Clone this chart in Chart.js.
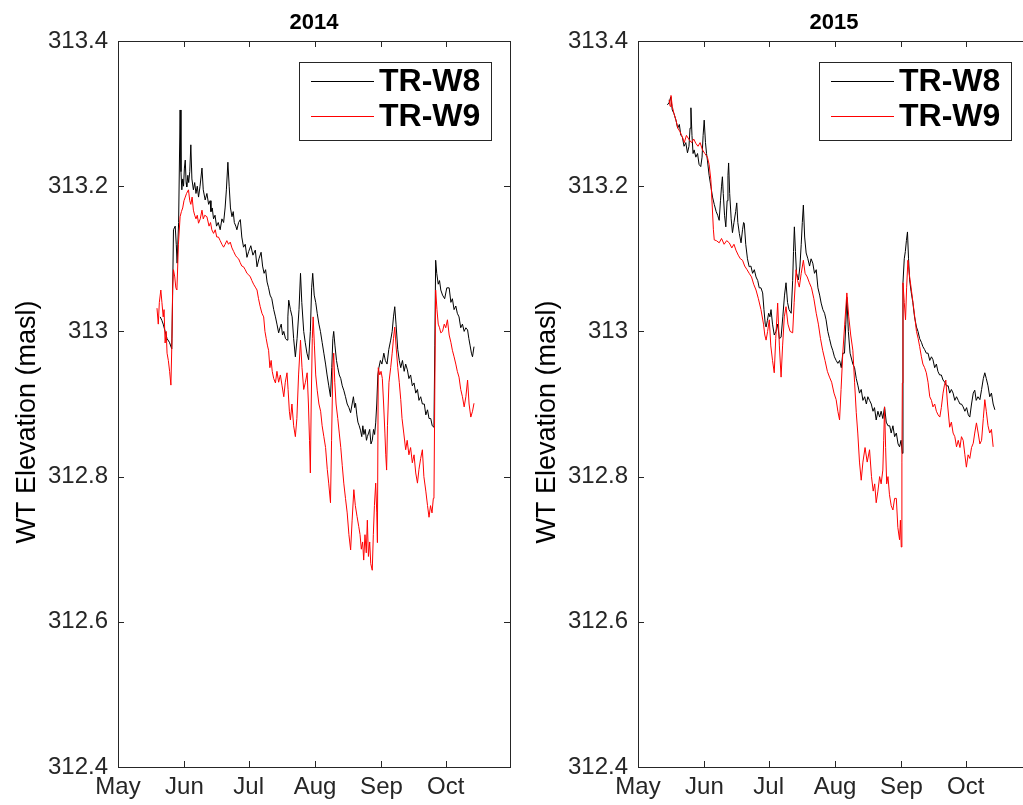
<!DOCTYPE html>
<html>
<head>
<meta charset="utf-8">
<script src="https://cdn.jsdelivr.net/npm/chart.js@4.4.1/dist/chart.umd.min.js"></script>
<style>
  html, body { margin: 0; padding: 0; background: #fff; overflow: hidden; }
  body { width: 1023px; height: 805px; position: relative; }
  .panel { position: absolute; top: 0; width: 520px; height: 805px; }
  #p2014 { left: 0; }
  #p2015 { left: 520px; }
</style>
</head>
<body>
<div class="panel" id="p2014"><canvas id="chart2014"></canvas></div>
<div class="panel" id="p2015"><canvas id="chart2015"></canvas></div>
<script>
// days counted from May 1
const monthTicks = [0, 31, 61, 92, 123, 153];
const monthLabels = ['May', 'Jun', 'Jul', 'Aug', 'Sep', 'Oct'];
const yTicks = [312.4, 312.6, 312.8, 313.0, 313.2, 313.4];
const seriesNames = ['TR-W8', 'TR-W9'];
const yAxisTitle = 'WT Elevation (masl)';

// 2014 TR-W8
const w8Days2014 = [19.7, 20.5, 21.1, 22.0, 22.9, 24.0, 25.1, 25.5, 25.9, 26.7, 27.2, 27.6, 28.3, 29.0, 29.4, 29.8, 30.2, 30.6, 31.0, 31.4, 31.8, 32.1, 32.6, 33.0, 33.5, 34.0, 34.5, 35.2, 35.8, 36.4, 37.0, 37.6, 38.3, 39.2, 39.8, 40.7, 41.5, 42.3, 43.0, 43.4, 44.0, 44.6, 45.3, 46.0, 46.8, 47.7, 48.5, 49.3, 50.0, 50.6, 51.3, 51.9, 52.5, 53.2, 53.8, 54.3, 55.0, 55.5, 56.3, 57.1, 57.8, 58.6, 59.4, 60.2, 61.0, 62.0, 63.0, 64.1, 64.9, 65.8, 66.8, 67.5, 68.2, 68.9, 69.6, 70.3, 71.0, 71.8, 72.7, 73.5, 74.2, 75.0, 75.6, 76.2, 76.8, 77.4, 78.2, 78.9, 79.3, 79.7, 80.5, 81.3, 82.0, 82.8, 83.6, 84.5, 85.2, 85.8, 86.7, 87.4, 88.2, 89.0, 89.8, 90.4, 90.9, 91.6, 92.3, 93.0, 93.8, 94.5, 95.3, 96.1, 96.9, 97.6, 98.4, 99.2, 99.8, 100.3, 100.7, 101.3, 102.0, 102.6, 103.3, 104.0, 104.7, 105.4, 106.2, 107.0, 107.8, 108.6, 109.3, 109.9, 110.5, 110.9, 111.5, 112.0, 112.6, 113.2, 113.8, 114.3, 114.8, 115.4, 116.0, 116.4, 117.0, 117.5, 118.1, 118.7, 119.3, 119.8, 120.3, 120.8, 121.3, 121.8, 122.5, 123.2, 124.1, 124.8, 125.6, 126.4, 127.3, 128.0, 128.6, 129.2, 129.8, 130.6, 131.3, 132.0, 132.8, 133.6, 134.3, 135.1, 135.8, 136.6, 137.4, 138.2, 139.0, 139.8, 140.5, 141.3, 142.1, 143.0, 143.7, 144.5, 145.2, 146.0, 146.7, 147.5, 147.9, 148.3, 148.8, 149.5, 150.1, 150.7, 151.5, 152.5, 153.5, 154.6, 155.4, 156.1, 156.9, 157.7, 158.4, 159.2, 160.0, 160.8, 161.6, 162.4, 163.2, 163.8, 164.4, 165.0, 165.5, 166.2];
const w8Vals2014 = [313.02, 313.015, 313.01, 313.0, 312.99, 312.985, 312.976, 313.05, 313.14, 313.145, 313.12, 313.094, 313.15, 313.305, 313.22, 313.195, 313.21, 313.2, 313.225, 313.236, 313.205, 313.199, 313.215, 313.205, 313.22, 313.257, 313.21, 313.195, 313.205, 313.19, 313.2, 313.185, 313.2, 313.225, 313.195, 313.181, 313.19, 313.175, 313.18, 313.165, 313.17, 313.155, 313.16, 313.145, 313.15, 313.14, 313.155, 313.15, 313.17, 313.195, 313.233, 313.2, 313.17, 313.158, 313.165, 313.15, 313.145, 313.14, 313.15, 313.154, 313.13, 313.116, 313.12, 313.102, 313.11, 313.118, 313.105, 313.112, 313.089, 313.1, 313.109, 313.09, 313.08, 313.085, 313.068, 313.06, 313.05, 313.045, 313.03, 313.02, 313.01, 312.998, 313.005, 313.01, 312.995, 313.0, 312.99, 312.988, 313.02, 313.043, 313.03, 313.02, 312.99, 312.965, 312.99, 313.03, 313.08, 313.04, 313.0, 312.985, 312.97, 312.961, 313.0, 313.06, 313.08, 313.05, 313.04, 313.025, 313.01, 313.0, 312.985, 312.97, 312.955, 312.94, 312.925, 312.91, 312.95, 312.99, 313.0, 312.98, 312.96, 312.95, 312.94, 312.935, 312.925, 312.919, 312.91, 312.9, 312.895, 312.888, 312.9, 312.91, 312.895, 312.901, 312.885, 312.875, 312.87, 312.864, 312.855, 312.87, 312.858, 312.865, 312.85, 312.855, 312.86, 312.865, 312.845, 312.85, 312.865, 312.858, 312.874, 312.9, 312.94, 312.95, 312.96, 312.955, 312.97, 312.96, 312.955, 312.975, 312.988, 313.0, 313.02, 313.034, 313.01, 312.975, 312.96, 312.95, 312.96, 312.945, 312.955, 312.947, 312.935, 312.94, 312.925, 312.929, 312.915, 312.92, 312.905, 312.91, 312.9, 312.9, 312.885, 312.892, 312.88, 312.88, 312.87, 312.868, 312.98, 313.098, 313.08, 313.065, 313.07, 313.057, 313.05, 313.045, 313.06, 313.06, 313.04, 313.045, 313.03, 313.035, 313.025, 313.02, 313.005, 313.01, 313.0, 313.005, 313.002, 312.99, 312.98, 312.97, 312.965, 312.979];
// 2014 TR-W9
const w9Days2014 = [18.2, 18.8, 19.3, 20.0, 20.5, 21.1, 21.5, 22.0, 22.5, 22.9, 23.5, 24.1, 24.7, 25.2, 25.5, 25.9, 26.5, 27.0, 27.5, 28.2, 29.0, 29.6, 30.2, 30.8, 31.4, 32.0, 32.9, 33.5, 34.0, 34.6, 35.2, 35.8, 36.4, 37.0, 37.6, 38.4, 39.2, 39.8, 40.5, 41.5, 42.5, 43.2, 43.8, 44.6, 45.4, 46.1, 46.9, 47.7, 48.5, 49.3, 50.0, 50.8, 51.6, 52.4, 53.2, 54.0, 54.8, 55.5, 56.3, 57.0, 57.8, 58.6, 59.4, 60.2, 61.0, 61.8, 62.5, 63.3, 64.1, 64.9, 65.6, 66.4, 67.2, 68.0, 68.6, 69.2, 69.8, 70.3, 70.9, 71.5, 72.0, 72.7, 73.5, 74.2, 75.0, 75.8, 76.6, 77.4, 78.1, 78.9, 79.4, 80.0, 80.5, 81.2, 82.0, 82.8, 83.5, 84.3, 85.2, 85.9, 86.7, 87.5, 88.3, 88.9, 89.4, 89.8, 90.2, 90.7, 91.1, 91.7, 92.3, 93.0, 93.8, 94.6, 95.3, 96.1, 96.9, 97.7, 98.4, 99.2, 99.7, 100.3, 100.7, 101.2, 101.8, 102.6, 103.3, 104.0, 104.7, 105.4, 106.2, 107.0, 107.8, 108.6, 109.3, 110.1, 110.8, 111.6, 112.4, 113.0, 113.6, 114.2, 114.7, 115.3, 115.9, 116.4, 116.9, 117.5, 118.0, 118.7, 119.2, 119.7, 120.3, 120.8, 121.1, 121.5, 122.2, 122.8, 123.4, 124.0, 124.6, 125.0, 125.4, 125.8, 126.5, 127.3, 128.0, 128.6, 129.2, 129.8, 130.6, 131.3, 132.0, 132.6, 133.4, 134.3, 135.0, 135.8, 136.6, 137.4, 138.2, 139.0, 139.8, 140.5, 141.3, 142.1, 142.8, 143.7, 144.5, 145.2, 145.9, 146.6, 147.2, 147.5, 147.9, 148.3, 148.9, 149.5, 150.1, 150.7, 151.5, 152.3, 153.0, 153.8, 154.6, 155.4, 156.1, 156.9, 157.7, 158.4, 159.2, 160.0, 160.8, 161.6, 162.4, 163.2, 163.9, 164.7, 165.5, 166.2];
const w9Vals2014 = [313.032, 313.01, 313.04, 313.057, 313.04, 313.02, 313.03, 312.984, 313.0, 312.97, 312.96, 312.945, 312.926, 312.99, 313.06, 313.085, 313.075, 313.06, 313.057, 313.12, 313.158, 313.165, 313.17, 313.18, 313.185, 313.19, 313.195, 313.18, 313.175, 313.185, 313.167, 313.16, 313.155, 313.16, 313.149, 313.155, 313.167, 313.155, 313.16, 313.158, 313.145, 313.15, 313.14, 313.135, 313.14, 313.13, 313.13, 313.125, 313.12, 313.116, 313.12, 313.125, 313.12, 313.123, 313.115, 313.11, 313.105, 313.102, 313.1, 313.095, 313.09, 313.089, 313.085, 313.08, 313.078, 313.075, 313.07, 313.065, 313.061, 313.057, 313.045, 313.034, 313.025, 313.02, 313.0, 312.99, 312.98, 312.974, 312.95, 312.96, 312.945, 312.935, 312.929, 312.945, 312.93, 312.94, 312.925, 312.91, 312.93, 312.943, 312.92, 312.89, 312.878, 312.9, 312.87, 312.855, 312.88, 312.94, 312.988, 312.95, 312.92, 312.93, 312.943, 312.9, 312.85, 312.805, 312.9, 312.99, 313.02, 312.98, 312.94, 312.919, 312.9, 312.89, 312.87, 312.855, 312.84, 312.81, 312.79, 312.764, 312.85, 312.95, 312.97, 312.93, 312.9, 312.88, 312.86, 312.84, 312.815, 312.791, 312.77, 312.75, 312.72, 312.699, 312.74, 312.782, 312.76, 312.745, 312.731, 312.72, 312.7, 312.71, 312.685, 312.72, 312.695, 312.74, 312.69, 312.71, 312.68, 312.671, 312.72, 312.76, 312.791, 312.75, 312.709, 312.95, 312.94, 312.945, 312.935, 312.9, 312.86, 312.83, 312.809, 312.87, 312.93, 312.95, 312.97, 312.99, 313.006, 312.98, 312.95, 312.93, 312.906, 312.88, 312.86, 312.837, 312.85, 312.83, 312.84, 312.819, 312.83, 312.805, 312.791, 312.81, 312.825, 312.837, 312.8, 312.78, 312.76, 312.744, 312.76, 312.75, 312.77, 312.772, 312.92, 313.057, 313.03, 313.01, 313.005, 312.998, 313.0, 313.01, 313.005, 313.016, 312.995, 312.985, 312.974, 312.965, 312.955, 312.945, 312.937, 312.92, 312.91, 312.896, 312.91, 312.933, 312.9, 312.882, 312.89, 312.901];

// 2015 TR-W8
const w8Days2015 = [13.7, 14.5, 15.3, 16.0, 16.8, 17.8, 18.5, 19.3, 20.0, 20.7, 21.5, 22.3, 23.1, 23.8, 24.3, 24.7, 25.2, 25.7, 26.2, 27.0, 27.8, 28.5, 29.3, 29.9, 30.4, 30.9, 31.5, 32.0, 32.4, 33.2, 34.0, 34.8, 35.6, 36.5, 37.2, 37.9, 38.5, 39.0, 39.4, 39.8, 40.4, 41.0, 41.6, 42.0, 42.3, 42.8, 43.5, 44.1, 44.8, 45.6, 46.1, 46.6, 47.3, 48.1, 48.8, 49.3, 49.6, 50.3, 51.1, 51.9, 52.7, 53.5, 54.3, 55.1, 55.9, 56.6, 57.4, 58.2, 58.8, 59.4, 59.8, 60.4, 61.0, 61.6, 62.1, 62.8, 63.6, 64.4, 65.2, 66.0, 66.8, 67.6, 68.4, 69.1, 69.8, 70.5, 71.5, 72.2, 72.6, 73.0, 73.5, 74.0, 74.9, 75.6, 76.2, 76.7, 77.2, 77.8, 78.5, 79.3, 80.1, 80.8, 81.6, 82.4, 83.2, 84.0, 84.8, 85.5, 86.3, 87.1, 87.8, 88.6, 89.4, 90.2, 90.9, 91.7, 92.5, 93.3, 94.1, 94.9, 95.6, 96.4, 97.0, 97.5, 98.2, 99.0, 100.3, 101.1, 101.9, 102.7, 103.4, 104.2, 105.0, 105.8, 106.6, 107.3, 108.1, 108.9, 109.7, 110.4, 111.2, 112.0, 112.8, 113.5, 114.3, 115.1, 115.9, 116.7, 117.5, 118.2, 119.0, 119.8, 120.6, 121.4, 122.1, 122.8, 123.4, 123.7, 124.3, 124.8, 125.3, 125.8, 126.3, 126.8, 127.5, 128.3, 129.1, 130.0, 130.7, 131.5, 132.3, 133.0, 133.8, 134.6, 135.4, 136.2, 137.0, 137.7, 138.5, 139.3, 140.0, 140.8, 141.6, 142.4, 143.2, 144.0, 144.8, 145.5, 146.3, 147.1, 147.9, 148.7, 149.5, 150.3, 151.0, 151.8, 152.6, 153.4, 154.2, 154.9, 155.7, 156.5, 157.2, 157.9, 158.7, 159.6, 160.4, 161.2, 161.9, 162.6, 163.4, 164.2, 165.0, 165.8, 166.6];
const w8Vals2015 = [313.312, 313.315, 313.323, 313.305, 313.3, 313.29, 313.28, 313.285, 313.27, 313.268, 313.255, 313.26, 313.246, 313.255, 313.28, 313.308, 313.27, 313.245, 313.25, 313.24, 313.245, 313.23, 313.227, 313.24, 313.27, 313.291, 313.26, 313.245, 313.236, 313.215, 313.2, 313.185, 313.175, 313.165, 313.16, 313.153, 313.18, 313.2, 313.213, 313.19, 313.16, 313.144, 313.18, 313.215, 313.232, 313.19, 313.155, 313.136, 313.15, 313.165, 313.177, 313.15, 313.135, 313.122, 313.14, 313.15, 313.149, 313.12, 313.1, 313.089, 313.09, 313.08, 313.085, 313.075, 313.07, 313.06, 313.06, 313.053, 313.03, 313.01, 313.006, 313.015, 313.025, 313.02, 313.03, 313.01, 312.995, 313.0, 313.01, 312.99, 312.992, 313.02, 313.05, 313.067, 313.04, 313.03, 313.025, 313.07, 313.11, 313.144, 313.11, 313.08, 313.071, 313.09, 313.12, 313.15, 313.174, 313.13, 313.108, 313.1, 313.09, 313.1, 313.094, 313.08, 313.085, 313.06, 313.05, 313.039, 313.03, 313.025, 313.016, 313.0, 312.99, 312.98, 312.974, 312.965, 312.96, 312.956, 312.96, 312.95, 312.97, 312.97, 313.01, 313.047, 313.0, 312.97, 312.955, 312.95, 312.935, 312.925, 312.915, 312.92, 312.905, 312.91, 312.9, 312.91, 312.905, 312.9, 312.89, 312.895, 312.878, 312.89, 312.882, 312.89, 312.88, 312.896, 312.875, 312.87, 312.87, 312.86, 312.87, 312.855, 312.86, 312.845, 312.841, 312.85, 312.832, 313.067, 313.1, 313.11, 313.125, 313.137, 313.1, 313.071, 313.055, 313.04, 313.02, 313.006, 313.0, 312.99, 312.985, 312.979, 312.975, 312.97, 312.97, 312.96, 312.965, 312.961, 312.95, 312.955, 312.945, 312.94, 312.94, 312.933, 312.93, 312.925, 312.925, 312.915, 312.92, 312.915, 312.905, 312.91, 312.905, 312.9, 312.9, 312.896, 312.89, 312.895, 312.885, 312.882, 312.9, 312.915, 312.919, 312.905, 312.91, 312.906, 312.92, 312.935, 312.943, 312.935, 312.925, 312.91, 312.915, 312.9, 312.892];
// 2015 TR-W9
const w9Days2015 = [14.5, 15.0, 15.4, 16.0, 16.8, 17.8, 18.6, 19.6, 20.7, 21.6, 22.6, 23.9, 25.0, 26.0, 27.0, 28.0, 29.0, 30.1, 31.2, 32.4, 33.2, 34.0, 34.7, 35.2, 35.6, 36.6, 37.9, 39.0, 40.2, 41.4, 42.6, 43.8, 44.8, 45.7, 46.8, 47.8, 48.8, 49.8, 50.9, 51.9, 53.0, 54.0, 55.1, 56.2, 57.4, 58.6, 59.2, 59.8, 60.5, 61.3, 62.0, 62.8, 63.6, 64.3, 65.2, 66.0, 66.8, 67.5, 68.3, 69.1, 70.0, 71.0, 72.2, 72.9, 73.8, 74.5, 75.3, 76.2, 77.2, 78.0, 79.0, 80.0, 81.0, 82.1, 83.2, 84.2, 85.2, 86.2, 87.3, 88.4, 89.4, 90.4, 91.5, 92.5, 93.3, 94.1, 94.8, 95.6, 96.5, 97.5, 98.4, 99.3, 100.3, 101.1, 101.9, 102.6, 103.4, 104.2, 105.0, 106.0, 107.0, 108.1, 109.0, 109.8, 110.5, 111.2, 112.0, 112.8, 113.5, 114.3, 114.7, 115.1, 115.6, 116.1, 116.7, 117.4, 118.2, 119.0, 119.8, 120.6, 121.3, 122.1, 122.5, 122.9, 123.2, 123.4, 123.7, 124.3, 124.9, 125.4, 126.0, 126.6, 127.5, 128.4, 129.2, 130.0, 130.8, 131.5, 132.3, 133.0, 133.8, 134.6, 135.4, 136.2, 137.0, 137.7, 138.5, 139.3, 140.1, 140.9, 141.6, 142.4, 143.0, 143.7, 144.5, 145.5, 146.3, 147.1, 147.9, 148.7, 149.5, 150.3, 151.0, 151.8, 152.6, 153.3, 154.1, 154.9, 155.7, 156.5, 157.2, 158.0, 158.8, 159.6, 160.4, 161.2, 161.9, 162.6, 163.4, 164.2, 165.0, 165.8];
const w9Vals2015 = [313.319, 313.31, 313.325, 313.31, 313.3, 313.29, 313.28, 313.275, 313.268, 313.26, 313.27, 313.264, 313.26, 313.265, 313.259, 313.255, 313.26, 313.25, 313.245, 313.24, 313.23, 313.209, 313.17, 313.14, 313.126, 313.125, 313.122, 313.128, 313.12, 313.125, 313.122, 313.115, 313.12, 313.112, 313.105, 313.1, 313.098, 313.09, 313.085, 313.08, 313.075, 313.065, 313.057, 313.045, 313.03, 313.01, 312.995, 312.988, 313.0, 313.016, 312.98, 312.96, 312.943, 312.99, 313.039, 312.98, 312.937, 312.98, 313.02, 313.034, 313.01, 313.0, 312.998, 313.04, 313.085, 313.07, 313.061, 313.08, 313.098, 313.08, 313.075, 313.067, 313.06, 313.045, 313.025, 313.01, 312.99, 312.974, 312.96, 312.945, 312.937, 312.93, 312.915, 312.906, 312.89, 312.878, 312.92, 312.97, 313.01, 313.053, 313.02, 312.995, 312.974, 312.93, 312.888, 312.86, 312.82, 312.795, 312.82, 312.84, 312.82, 312.837, 312.8, 312.78, 312.79, 312.764, 312.78, 312.8, 312.79, 312.809, 312.85, 312.896, 312.84, 312.79, 312.8, 312.775, 312.76, 312.754, 312.77, 312.77, 312.73, 312.713, 312.74, 312.703, 312.82, 312.929, 313.067, 313.04, 313.016, 313.06, 313.098, 313.08, 313.06, 313.039, 313.02, 313.0, 312.99, 312.979, 312.965, 312.955, 312.95, 312.943, 312.93, 312.91, 312.905, 312.896, 312.9, 312.89, 312.885, 312.882, 312.895, 312.915, 312.925, 312.933, 312.9, 312.868, 312.875, 312.86, 312.855, 312.841, 312.85, 312.84, 312.855, 312.85, 312.83, 312.813, 312.83, 312.825, 312.84, 312.846, 312.86, 312.874, 312.86, 312.845, 312.85, 312.88, 312.906, 312.89, 312.87, 312.86, 312.865, 312.841];

const FONT = '"Liberation Sans", Arial, Helvetica, sans-serif';
const AXIS_COLOR = '#262626';

function pairs(days, vals) {
  return days.map((d, i) => ({ x: d, y: vals[i] }));
}

// box, inward ticks, title and y label, matlab style
const framePlugin = {
  id: 'frame',
  afterDraw(chart) {
    const { ctx, chartArea: a, scales: { x, y } } = chart;
    ctx.save();
    ctx.strokeStyle = AXIS_COLOR;
    ctx.lineWidth = 1;
    ctx.strokeRect(a.left + 0.5, a.top + 0.5, a.right - a.left, a.bottom - a.top);
    ctx.beginPath();
    monthTicks.forEach(t => {
      const px = Math.round(x.getPixelForValue(t)) + 0.5;
      ctx.moveTo(px, a.bottom); ctx.lineTo(px, a.bottom - 6);
      ctx.moveTo(px, a.top); ctx.lineTo(px, a.top + 6);
    });
    yTicks.forEach(t => {
      const py = Math.round(y.getPixelForValue(t)) + 0.5;
      ctx.moveTo(a.left, py); ctx.lineTo(a.left + 6, py);
      ctx.moveTo(a.right, py); ctx.lineTo(a.right - 6, py);
    });
    ctx.stroke();

    ctx.fillStyle = '#000';
    ctx.textAlign = 'center';
    ctx.textBaseline = 'middle';
    ctx.font = 'bold 22px ' + FONT;
    ctx.fillText(chart.options.plugins.frame.title, (a.left + a.right) / 2, 23);

    ctx.font = '27px ' + FONT;
    ctx.translate(28, (a.top + a.bottom) / 2 + 18);
    ctx.rotate(-Math.PI / 2);
    ctx.fillText(yAxisTitle, 0, 0);
    ctx.restore();
  }
};

const legendPlugin = {
  id: 'boxLegend',
  afterDraw(chart) {
    const { ctx, chartArea: a } = chart;
    const w = 192, h = 78;
    const left = a.right - 19 - w, top = a.top + 21;
    ctx.save();
    ctx.fillStyle = '#fff';
    ctx.fillRect(left, top, w, h);
    ctx.strokeStyle = AXIS_COLOR;
    ctx.lineWidth = 1;
    ctx.strokeRect(left + 0.5, top + 0.5, w, h);
    ctx.font = 'bold 32px ' + FONT;
    ctx.textBaseline = 'middle';
    seriesNames.forEach((name, i) => {
      const ds = chart.data.datasets.find(d => d.label === name);
      const cy = top + 19 + i * 35;
      ctx.strokeStyle = ds.borderColor;
      ctx.beginPath();
      ctx.moveTo(left + 12, cy + 0.5); ctx.lineTo(left + 75, cy + 0.5);
      ctx.stroke();
      ctx.fillStyle = '#000';
      ctx.fillText(name, left + 80, cy + 1);
    });
    ctx.restore();
  }
};

function makeChart(id, year, w8d, w8v, w9d, w9v) {
  return new Chart(document.getElementById(id), {
    type: 'line',
    data: {
      datasets: [
        { label: 'TR-W8', data: pairs(w8d, w8v), borderColor: '#000000', borderWidth: 1, pointRadius: 0, order: 1 },
        { label: 'TR-W9', data: pairs(w9d, w9v), borderColor: '#ff0000', borderWidth: 1, pointRadius: 0, order: 0 }
      ]
    },
    options: {
      responsive: false,
      animation: false,
      layout: { padding: { left: 0, right: 10, top: 41, bottom: 0 } },
      plugins: {
        legend: { display: false },
        tooltip: { enabled: false },
        title: { display: false },
        frame: { title: year }
      },
      scales: {
        x: {
          type: 'linear',
          min: 0,
          max: 183,
          grid: { display: false, drawTicks: false },
          border: { display: false },
          afterBuildTicks: s => { s.ticks = monthTicks.map(v => ({ value: v })); },
          afterFit: s => { s.height = 38; },
          ticks: {
            color: AXIS_COLOR,
            font: { family: FONT, size: 24 },
            padding: 6,
            maxRotation: 0,
            autoSkip: false,
            callback: v => monthLabels[monthTicks.indexOf(v)]
          }
        },
        y: {
          min: 312.4,
          max: 313.4,
          grid: { display: false, drawTicks: false },
          border: { display: false },
          afterBuildTicks: s => { s.ticks = yTicks.map(v => ({ value: v })); },
          afterFit: s => { s.width = 118; },
          ticks: {
            color: AXIS_COLOR,
            font: { family: FONT, size: 24 },
            padding: 10,
            callback: v => String(Number(v.toFixed(1)))
          }
        }
      }
    },
    plugins: [framePlugin, legendPlugin]
  });
}

document.querySelectorAll('canvas').forEach(c => { c.width = 520; c.height = 805; });
makeChart('chart2014', '2014', w8Days2014, w8Vals2014, w9Days2014, w9Vals2014);
makeChart('chart2015', '2015', w8Days2015, w8Vals2015, w9Days2015, w9Vals2015);
</script>
</body>
</html>
